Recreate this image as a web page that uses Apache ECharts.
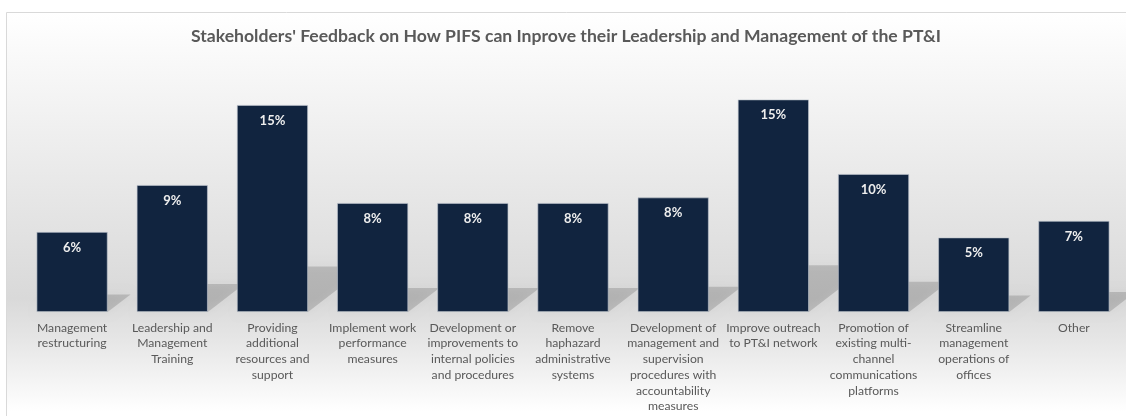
<!DOCTYPE html>
<html>
<head>
<meta charset="utf-8">
<script src="https://cdn.jsdelivr.net/npm/echarts@6/dist/echarts.min.js"></script>
<style>
html,body{margin:0;padding:0;background:#ffffff;}
#chart{width:1126px;height:416px;}
</style>
</head>
<body>
<div id="chart"></div>
<script>
const titleText = "Stakeholders' Feedback on How PIFS can Inprove their Leadership and Management of the PT&I";
const categories = [
  'Management\nrestructuring',
  'Leadership and\nManagement\nTraining',
  'Providing\nadditional\nresources and\nsupport',
  'Implement work\nperformance\nmeasures',
  'Development or\nimprovements to\ninternal policies\nand procedures',
  'Remove\nhaphazard\nadministrative\nsystems',
  'Development of\nmanagement and\nsupervision\nprocedures with\naccountability\nmeasures',
  'Improve outreach\nto PT&I network',
  'Promotion of\nexisting multi-\nchannel\ncommunications\nplatforms',
  'Streamline\nmanagement\noperations of\noffices',
  'Other'
];
const values = [5.8, 9.2, 15.0, 7.9, 7.9, 7.9, 8.3, 15.4, 10.0, 5.4, 6.6];

const chart = echarts.init(document.getElementById('chart'), null, {renderer: 'canvas'});
const FONT = 'Lato';
const BAR_FRAC = 0.71;

chart.setOption({
  animation: false,
  backgroundColor: '#ffffff',
  title: {
    text: titleText,
    left: 186,
    top: 22,
    textStyle: {fontFamily: FONT, fontSize: 17.6, fontWeight: 'bold', color: '#595959'}
  },
  graphic: [{
    type: 'rect',
    silent: true,
    z: -10,
    shape: {x: 6.5, y: 12.5, width: 1130, height: 420},
    style: {
      fill: new echarts.graphic.LinearGradient(0, 0, 0, 1, [
        {offset: 0, color: '#ffffff'},
        {offset: 0.68, color: '#d9d9d9'},
        {offset: 0.78, color: '#e6e6e6'},
        {offset: 0.95, color: '#ffffff'}
      ]),
      stroke: '#d9d9d9',
      lineWidth: 1
    }
  }],
  grid: {left: 22, right: 2, top: 91.2, bottom: 104, containLabel: false},
  xAxis: {
    type: 'category',
    data: categories,
    axisLine: {show: false},
    axisTick: {show: false},
    axisLabel: {
      interval: 0,
      margin: 8,
      fontFamily: FONT,
      fontSize: 12.2,
      lineHeight: 15.7,
      color: '#595959',
      verticalAlign: 'top'
    }
  },
  yAxis: {
    type: 'value',
    min: 0,
    max: 16,
    show: false,
    splitLine: {show: false}
  },
  series: [
    {
      type: 'custom',
      z: 1,
      silent: true,
      clip: false,
      data: values.map((v, i) => [i, v]),
      renderItem: function (params, api) {
        const i = api.value(0), v = api.value(1);
        const top = api.coord([i, v]);
        const base = api.coord([i, 0]);
        const bw = api.size([1, 0])[0] * BAR_FRAC;
        const xL = base[0] - bw / 2, xR = base[0] + bw / 2, y0 = base[1];
        const h = y0 - top[1];
        const dy = 0.22 * h;
        const dx = 1.3 * dy;
        return {
          type: 'polygon',
          shape: {points: [[xL, y0], [xR, y0], [xR + dx, y0 - dy], [xL + dx, y0 - dy]]},
          style: {
            fill: 'rgba(0,0,0,0.15)',
            shadowBlur: 10,
            shadowColor: 'rgba(0,0,0,0.2)'
          }
        };
      }
    },
    {
      type: 'bar',
      z: 2,
      data: values,
      barWidth: (BAR_FRAC * 100) + '%',
      itemStyle: {color: '#11243f', borderColor: 'rgba(190,196,206,0.8)', borderWidth: 0.8},
      label: {
        show: true,
        position: 'insideTop',
        distance: 9,
        fontFamily: FONT,
        fontSize: 13,
        fontWeight: 'bold',
        color: '#eeeeee',
        formatter: function (p) { return Math.round(p.value) + '%'; }
      }
    }
  ]
});
</script>
</body>
</html>
